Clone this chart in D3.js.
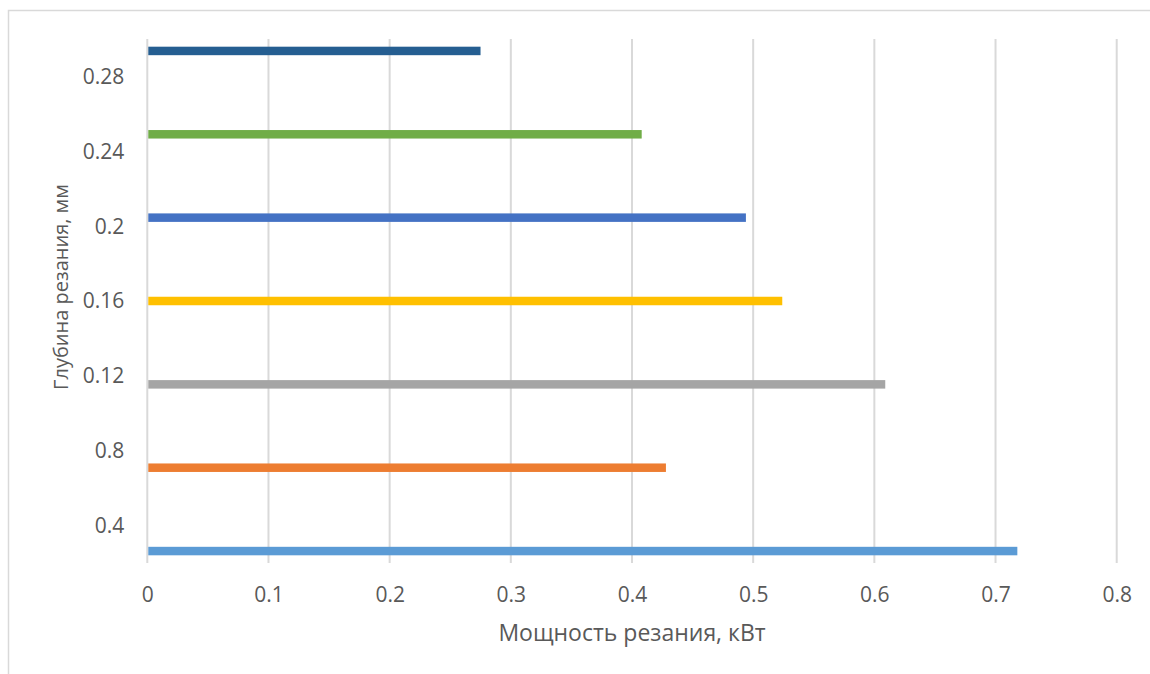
<!DOCTYPE html>
<html>
<head>
<meta charset="utf-8">
<script src="https://cdn.jsdelivr.net/npm/d3@7/dist/d3.min.js"></script>
<style>
  html, body { margin: 0; padding: 0; background: #ffffff; }
  svg text { font-family: "Open Sans", "Noto Sans", sans-serif; fill: #595959; }
</style>
</head>
<body>
<svg id="chart" width="1150" height="674"></svg>
<script>
// Data
const categories = ["0.4", "0.8", "0.12", "0.16", "0.2", "0.24", "0.28"];
const values = [0.718, 0.428, 0.609, 0.524, 0.494, 0.408, 0.275];
const colors = ["#5B9BD5", "#ED7D31", "#A5A5A5", "#FFC000", "#4472C4", "#70AD47", "#255E91"];
const xTicks = [0, 0.1, 0.2, 0.3, 0.4, 0.5, 0.6, 0.7, 0.8];
const xTitle = "Мощность резания, кВт";
const yTitle = "Глубина резания, мм";

const svg = d3.select("#chart");
const W = 1150, H = 674;
const plot = { left: 147.3, right: 1116.7, top: 39, bottom: 563 };

// chart border
svg.append("rect")
  .attr("x", 8.5).attr("y", 10.5)
  .attr("width", W + 20).attr("height", H + 20)
  .attr("fill", "none").attr("stroke", "#d9d9d9").attr("stroke-width", 1.5);

const x = d3.scaleLinear().domain([0, 0.8]).range([plot.left, plot.right]);
const y0 = d3.scaleBand().domain(categories).range([plot.bottom, plot.top]).paddingInner(0).paddingOuter(0);
const B = y0.bandwidth();
const gapRatio = 1.81;
const slot = B / (categories.length + gapRatio);
const gap = slot * gapRatio;
const y1 = d3.scaleBand().domain(d3.range(categories.length))
  .range([B - gap / 2, gap / 2]).paddingInner(0).paddingOuter(0);

// gridlines
svg.append("g").selectAll("line").data(xTicks).join("line")
  .attr("x1", d => x(d)).attr("x2", d => x(d))
  .attr("y1", plot.top).attr("y2", plot.bottom)
  .attr("stroke", "#d9d9d9").attr("stroke-width", 2);

// bars: category i uses series slot i
svg.append("g").selectAll("rect").data(values).join("rect")
  .attr("x", x(0) + 1)
  .attr("y", (d, i) => y0(categories[i]) + y1(i))
  .attr("width", d => x(d) - x(0) - 1)
  .attr("height", y1.bandwidth())
  .attr("fill", (d, i) => colors[i]);

// x axis labels
const xAxis = d3.axisBottom(x).tickValues(xTicks).tickSize(0).tickPadding(0)
  .tickFormat(d => d3.format("")(+d.toFixed(2)));
const gx = svg.append("g").attr("transform", `translate(0,${plot.bottom})`).call(xAxis);
gx.select(".domain").remove();
gx.selectAll("text").attr("y", 32).attr("dy", "0.35em")
  .style("font-size", "21px").style("font-family", "'Open Sans', sans-serif").attr("fill", "#595959");

// y axis labels
const yAxis = d3.axisLeft(y0).tickSize(0).tickPadding(0);
const gy = svg.append("g").attr("transform", `translate(${plot.left},0)`).call(yAxis);
gy.select(".domain").remove();
gy.selectAll("text").attr("x", -23).attr("dy", "0.35em")
  .style("font-size", "21px").style("font-family", "'Open Sans', sans-serif").attr("fill", "#595959");

// titles
svg.append("text")
  .attr("x", (plot.left + plot.right) / 2).attr("y", 633)
  .attr("dy", "0.35em").attr("text-anchor", "middle")
  .style("font-size", "23px").text(xTitle);

svg.append("text")
  .attr("transform", `translate(61,287) rotate(-90)`)
  .attr("dy", "0.35em").attr("text-anchor", "middle")
  .style("font-size", "20px").text(yTitle);
</script>
</body>
</html>
